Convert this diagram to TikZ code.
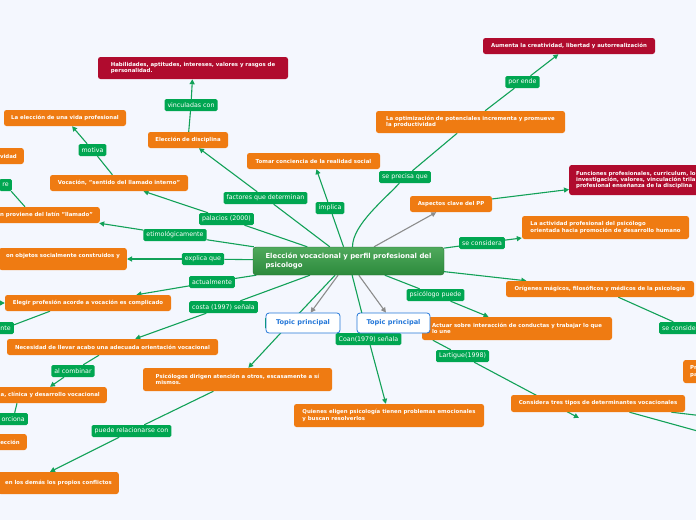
\documentclass[tikz,border=0pt]{standalone}
\usepackage{fontspec}
\setmainfont{DejaVu Sans}
\usetikzlibrary{arrows.meta,backgrounds}
\definecolor{bgblue}{HTML}{F4F7FE}
\definecolor{mmorange}{HTML}{EF7B12}
\definecolor{mmred}{HTML}{B00B2E}
\definecolor{mmgreen}{HTML}{00A651}
\definecolor{mmline}{HTML}{12A158}
\definecolor{mmgray}{HTML}{8C8C8C}
\definecolor{mmblue}{HTML}{2477D9}
\definecolor{rootdark}{HTML}{2C8A3C}
\definecolor{rootlight}{HTML}{4FA95C}
\begin{document}
\begin{tikzpicture}[x=1pt,y=-1pt,
  obox/.style={fill=mmorange, text=white, rounded corners=2.5pt, align=left, inner xsep=7pt, inner ysep=2pt, font=\fontsize{5.4}{6.4}\selectfont\bfseries, minimum height=16pt},
  rbox/.style={obox, fill=mmred},
  lbl/.style={fill=mmgreen, text=white, rounded corners=1.5pt, inner xsep=3pt, inner ysep=0pt, font=\fontsize{6.3}{7}\selectfont, minimum height=12pt},
  topicbox/.style={draw=mmblue, line width=0.8pt, fill=white, text=mmblue, rounded corners=3pt, font=\fontsize{6.6}{8}\selectfont\bfseries, minimum width=74pt, minimum height=20pt},
  rootbox/.style={draw=rootdark!80!black, top color=rootlight, bottom color=rootdark, text=white, rounded corners=3pt, align=left, font=\fontsize{6.9}{8.4}\selectfont\bfseries, minimum width=191pt, minimum height=28pt},
  conn/.style={draw=mmline, line width=1.1pt, -{Triangle[length=5pt,width=5pt]}},
  connplain/.style={draw=mmline, line width=1.1pt},
  grayconn/.style={draw=mmgray, line width=1.1pt, -{Triangle[length=5pt,width=5pt]}}]
\useasboundingbox (0,0) rectangle (696,520);
\node[rbox, minimum width=190pt, minimum height=22pt] (habil) at (193,68) {Habilidades, aptitudes, intereses, valores y rasgos de\\personalidad.};
\node[lbl] (vinc) at (191,105) {vinculadas con};
\node[obox, minimum width=80pt] (disc) at (188,140) {Elección de disciplina};
\node[obox, minimum width=122pt] (vidaprof) at (65,118) {La elección de una vida profesional};
\node[lbl] (motiva) at (92.5,150) {motiva};
\node[obox, anchor=east] (vidad) at (24,156) {vidad};
\node[lbl, anchor=east] (re) at (12,185) {re};
\node[obox, minimum width=138pt] (vocacion) at (119,183) {Vocación, "sentido del llamado interno"};
\node[obox, anchor=east] (latin) at (100,215) {n proviene del latín "llamado"};
\node[lbl] (etimol) at (175,235) {etimológicamente};
\node[obox, anchor=east, minimum height=22pt] (objetos) at (127,259) {on objetos socialmente construidos y\\\mbox{}};
\node[lbl] (explica) at (203,259) {explica que};
\node[lbl] (actual) at (212,282) {actualmente};
\node[obox, minimum width=166pt] (elegir) at (88,303) {Elegir profesión acorde a vocación es complicado};
\node[lbl, anchor=east] (nte) at (14,328) {nte};
\node[lbl] (costa) at (223.5,307) {costa (1997) señala};
\node[obox, minimum width=211pt] (necesidad) at (112.5,347) {Necesidad de llevar acabo una adecuada orientación vocacional};
\node[lbl] (alcomb) at (73,371) {al combinar};
\node[obox, anchor=east] (clinica) at (107,395) {a, clínica y desarrollo vocacional};
\node[lbl, anchor=east] (orciona) at (28,419) {orciona};
\node[obox, anchor=east] (leccion) at (27,442) {lección};
\node[obox, anchor=east, minimum height=22pt] (demas) at (119,483) {en los demás los propios conflictos};
\node[lbl] (puede) at (131.5,431) {puede relacionarse con};
\node[obox, minimum width=189pt, minimum height=23pt] (psicologos) at (237.5,379.5) {Psicólogos dirigen atención a otros, escasamente a sí\\mismos.};
\node[obox, minimum width=190pt, minimum height=23pt] (quienes) at (389,415.5) {Quienes eligen psicología tienen problemas emocionales\\y buscan resolverlos};
\node[rootbox] (root) at (348.5,261) {Elección vocacional y perfil profesional del\\psicologo};
\node[obox, minimum width=133pt] (tomar) at (313.5,161) {Tomar conciencia de la realidad social};
\node[lbl] (implica) at (330,208) {implica};
\node[lbl] (factores) at (265.5,198) {factores que determinan};
\node[lbl] (palacios) at (226.5,219) {palacios (2000)};
\node[lbl] (seprecisa) at (405,177) {se precisa que};
\node[obox, minimum width=189pt, minimum height=22pt] (optim) at (470.5,122) {La optimización de potenciales incrementa y promueve\\la productividad};
\node[lbl] (porende) at (522.5,82) {por ende};
\node[rbox, minimum width=172pt] (aumenta) at (569,46) {Aumenta la creatividad, libertad y autorrealización};
\node[obox, minimum width=82pt] (aspectos) at (451,204) {Aspectos clave del PP};
\node[rbox, anchor=west, text width=140pt, minimum height=30pt] (funciones) at (569,180) {Funciones profesionales, curriculum, lo\\investigación, valores, vinculación trila\\profesional enseñanza de la disciplina};
\node[lbl] (secons) at (482,243) {se considera};
\node[obox, minimum width=167pt, minimum height=23pt] (actividad) at (605.5,227.5) {La actividad profesional del psicólogo\\orientada hacia promoción de desarrollo humano};
\node[obox, minimum width=188pt] (origenes) at (600,289) {Orígenes mágicos, filosóficos y médicos de la psicología};
\node[lbl, anchor=west, text width=50pt] (seconside) at (659,328) {se conside};
\node[obox, anchor=west, text width=30pt, minimum height=23pt] (pr) at (683,371.5) {Pr\\pa};
\node[obox, minimum width=190pt, minimum height=23pt] (actuar) at (517,328.5) {Actuar sobre interacción de conductas y trabajar lo que\\lo une};
\node[lbl] (psipuede) at (435.5,295) {psicólogo puede};
\node[lbl] (lartigue) at (462.5,356) {Lartigue(1998)};
\node[obox, minimum width=174pt, minimum height=17pt] (considera) at (598,403.5) {Considera tres tipos de determinantes vocacionales};
\node[lbl] (coan) at (368.5,339) {Coan(1979) señala};
\node[lbl, minimum width=50pt] (hidlbl) at (290,323) {};
\node[topicbox] (tp1) at (303,323) {Topic principal};
\node[topicbox, minimum width=73pt] (tp2) at (393.5,323) {Topic principal};
\coordinate (offl) at (-12,303);
\coordinate (offr1) at (712,417);
\coordinate (offr2) at (712,435);
\coordinate (consbot) at (579,418);
\begin{scope}[on background layer]
\fill[bgblue] (0,0) rectangle (696,520);
\draw[connplain] (root) -- (factores);
\draw[conn] (factores) -- (disc);
\draw[connplain] (root) -- (palacios);
\draw[conn] (palacios) -- (vocacion);
\draw[connplain] (root) -- (etimol);
\draw[conn] (etimol) -- (latin);
\draw[connplain] (root) -- (explica);
\draw[conn] (explica) -- (objetos);
\draw[connplain] (root) -- (actual);
\draw[conn] (actual) -- (elegir);
\draw[connplain] (root) -- (costa);
\draw[conn] (costa) -- (necesidad);
\draw[connplain] (root) -- (hidlbl);
\draw[conn] (hidlbl) -- (psicologos);
\draw[connplain] (root) -- (implica);
\draw[conn] (implica) -- (tomar);
\draw[connplain] ([xshift=4pt]root.north) .. controls +(0,-22) and +(-20,22) .. (seprecisa);
\draw[connplain] (seprecisa) -- (optim);
\draw[connplain] (optim) -- (porende);
\draw[conn] (porende) -- (aumenta);
\draw[grayconn] (root) -- (aspectos);
\draw[conn] (aspectos) -- (funciones);
\draw[connplain] (root) -- (secons);
\draw[conn] (secons) -- (actividad);
\draw[conn] (root) -- (origenes);
\draw[connplain] (origenes) -- (seconside);
\draw[connplain] (root) -- (psipuede);
\draw[conn] (psipuede) -- (actuar);
\draw[connplain] ([xshift=11pt]actuar.south west) -- (lartigue);
\draw[conn] (lartigue) -- (consbot);
\draw[connplain] (considera) -- (offr1);
\draw[connplain] (considera) -- (offr2);
\draw[grayconn] (root) -- (tp1);
\draw[grayconn] (root) -- (tp2);
\draw[connplain] (root) -- (coan);
\draw[conn] (coan) -- (quienes);
\draw[connplain] (disc) -- (vinc);
\draw[conn] (vinc) -- (habil);
\draw[connplain] (vocacion) -- (motiva);
\draw[conn] (motiva) -- (vidaprof);
\draw[connplain] ([xshift=-75pt]latin.north east) -- (re);
\draw[connplain] ([xshift=-38pt]elegir.south) -- (nte);
\draw[conn] (offl) -- (elegir);
\draw[connplain] (necesidad) -- (alcomb);
\draw[conn] (alcomb) -- ([xshift=-57pt]clinica.north east);
\draw[connplain] ([xshift=-90pt]clinica.south east) -- (orciona);
\draw[connplain] (psicologos) -- (puede);
\draw[conn] (puede) -- ([xshift=-69pt]demas.north east);
\end{scope}
\end{tikzpicture}
\end{document}
